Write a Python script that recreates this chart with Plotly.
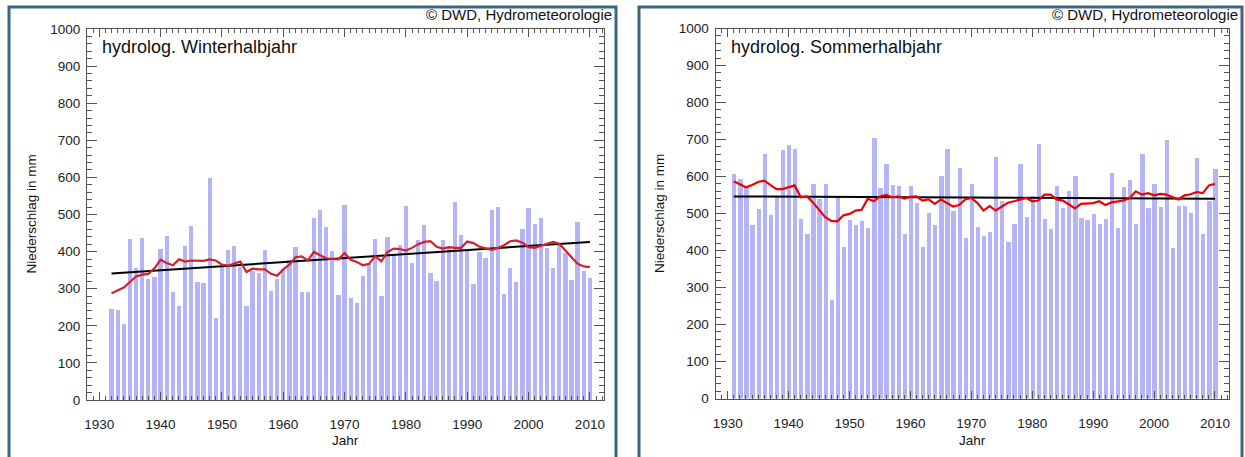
import plotly.graph_objects as go

# ---------------- data ----------------
years_winter = list(range(1932, 2011))
winter = [245, 242, 206, 435, 356, 437, 325, 332, 407, 442,
          291, 254, 415, 470, 318, 315, 598, 222, 358, 403,
          415, 358, 254, 349, 342, 403, 293, 327, 354, 378,
          412, 291, 290, 491, 513, 465, 401, 284, 526, 276,
          262, 333, 366, 434, 280, 439, 390, 417, 522, 368,
          432, 473, 341, 320, 432, 412, 535, 444, 403, 314,
          399, 383, 512, 520, 287, 356, 318, 462, 517, 475,
          490, 409, 356, 417, 395, 324, 480, 348, 330]
winter_smooth = [288, 295, 303, 318, 333, 338, 340, 355, 378, 369,
                 363, 379, 373, 376, 375, 375, 379, 376, 365, 362,
                 368, 373, 345, 354, 352, 352, 340, 335, 352, 365,
                 385, 387, 376, 399, 390, 382, 380, 379, 396, 378,
                 372, 363, 367, 388, 374, 399, 408, 407, 403, 410,
                 420, 426, 428, 413, 408, 412, 410, 410, 427, 423,
                 413, 410, 405, 410, 417, 428, 430, 424, 412, 410,
                 416, 420, 426, 421, 402, 383, 367, 360, 358]
winter_trend_years = [1932, 2010]
winter_trend = [341, 426]

years_summer = list(range(1931, 2011))
summer = [609, 595, 575, 470, 513, 661, 498, 548, 672, 687,
          677, 486, 447, 582, 540, 582, 267, 546, 411, 483,
          469, 480, 461, 705, 571, 636, 579, 575, 447, 576,
          531, 411, 503, 470, 603, 675, 508, 623, 436, 582,
          465, 441, 452, 654, 535, 425, 472, 634, 492, 549,
          688, 486, 459, 576, 517, 562, 603, 489, 483, 499,
          474, 486, 610, 461, 573, 591, 472, 661, 517, 582,
          519, 699, 409, 522, 522, 504, 652, 445, 535, 621]
summer_smooth = [587, 580, 571, 577, 585, 589, 578, 566, 566, 570,
                 576, 544, 546, 530, 510, 490, 480, 479, 495, 499,
                 508, 510, 540, 533, 546, 550, 544, 546, 540, 545,
                 546, 535, 538, 526, 538, 528, 519, 523, 538, 542,
                 528, 508, 520, 508, 519, 529, 533, 538, 542, 533,
                 535, 551, 551, 538, 535, 525, 514, 526, 526, 528,
                 533, 523, 530, 532, 535, 542, 560, 551, 555, 549,
                 553, 551, 545, 538, 549, 552, 558, 555, 576, 580]
summer_trend_years = [1931, 2010]
summer_trend = [546, 540]

panel_titles = ["hydrolog. Winterhalbjahr", "hydrolog. Sommerhalbjahr"]
copyright_text = "© DWD, Hydrometeorologie"
x_title = "Jahr"
y_title = "Niederschlag in mm"
x_ticks = [1930, 1940, 1950, 1960, 1970, 1980, 1990, 2000, 2010]
y_ticks = [0, 100, 200, 300, 400, 500, 600, 700, 800, 900, 1000]

# ---------------- layout helpers ----------------
W, H = 1245, 457
def px(x):
    return x / W
def py(y):
    return 1 - y / H

BAR_COLOR = "rgb(180,180,246)"
FONT = "Liberation Sans, Arial, Helvetica, sans-serif"
AXCOL = "#555555"

fig = go.Figure()

panels = [
    dict(x=years_winter, y=winter, s=winter_smooth, ty=winter_trend_years, tv=winter_trend,
         xa="x", ya="y", red="#d3202a", box=(87, 604, 29, 400), frame=(9, 616)),
    dict(x=years_summer, y=summer, s=summer_smooth, ty=summer_trend_years, tv=summer_trend,
         xa="x2", ya="y2", red="#f00000", box=(715.5, 1229, 28.5, 398.5), frame=(639, 1242)),
]

for i, p in enumerate(panels):
    fig.add_trace(go.Bar(x=p["x"], y=p["y"], width=0.7, marker=dict(color=BAR_COLOR, line=dict(width=0)),
                         xaxis=p["xa"], yaxis=p["ya"], showlegend=False, hoverinfo="x+y"))
    fig.add_trace(go.Scatter(x=p["ty"], y=p["tv"], mode="lines", line=dict(color="black", width=2),
                             xaxis=p["xa"], yaxis=p["ya"], showlegend=False))
    fig.add_trace(go.Scatter(x=p["x"], y=p["s"], mode="lines", line=dict(color=p["red"], width=2.2),
                             xaxis=p["xa"], yaxis=p["ya"], showlegend=False))

axis_common_x = dict(
    range=[1928.0, 2012.3], tickvals=x_ticks, ticks="inside", ticklen=8, tickcolor=AXCOL, tickwidth=1,
    showline=True, linecolor=AXCOL, linewidth=1, mirror="ticks", showgrid=False, zeroline=False,
    tickfont=dict(family=FONT, size=13.5, color="#222"), ticklabelstandoff=12, automargin=False,
    minor=dict(dtick=1, tick0=1930, ticks="inside", ticklen=4, tickcolor=AXCOL, showgrid=False),
)
axis_common_y = dict(
    range=[0, 1000], tickvals=y_ticks, ticks="inside", ticklen=10, tickcolor=AXCOL, tickwidth=1,
    showline=True, linecolor=AXCOL, linewidth=1, mirror="ticks", showgrid=False, zeroline=False,
    tickfont=dict(family=FONT, size=13.5, color="#222"), ticklabelstandoff=3, automargin=False,
    minor=dict(dtick=20, tick0=0, ticks="inside", ticklen=5, tickcolor=AXCOL, showgrid=False),
)

l0, r0, t0, b0 = panels[0]["box"]
l1, r1, t1, b1 = panels[1]["box"]
fig.update_layout(
    width=W, height=H, margin=dict(l=0, r=0, t=0, b=0, autoexpand=False),
    paper_bgcolor="white", plot_bgcolor="white", bargap=0,
    xaxis=dict(domain=[px(l0), px(r0)], anchor="y", **axis_common_x),
    yaxis=dict(domain=[py(b0), py(t0)], anchor="x", **axis_common_y),
    xaxis2=dict(domain=[px(l1), px(r1)], anchor="y2", **axis_common_x),
    yaxis2=dict(domain=[py(b1), py(t1)], anchor="x2", **axis_common_y),
)

shapes = []
annotations = []
for i, p in enumerate(panels):
    l, r, t, b = p["box"]
    fl, fr = p["frame"]
    shapes.append(dict(type="rect", xref="paper", yref="paper", x0=px(fl), x1=px(fr), y0=py(470), y1=py(7),
                       line=dict(color="#3d6680", width=3), fillcolor="rgba(0,0,0,0)", layer="above"))
    annotations.append(dict(text=panel_titles[i], xref="paper", yref="paper", x=px(l + 13), y=py(47),
                            xanchor="left", yanchor="middle", showarrow=False,
                            font=dict(family=FONT, size=18, color="#111")))
    annotations.append(dict(text=copyright_text, xref="paper", yref="paper", x=px(fr - 2), y=py(15),
                            xanchor="right", yanchor="middle", showarrow=False,
                            font=dict(family=FONT, size=15, color="#111")))
    annotations.append(dict(text=x_title, xref="paper", yref="paper", x=px((l + r) / 2), y=py(440),
                            xanchor="center", yanchor="middle", showarrow=False,
                            font=dict(family=FONT, size=13.5, color="#111")))
    annotations.append(dict(text=y_title, xref="paper", yref="paper", x=px(l - 56), y=py((t + b) / 2),
                            xanchor="center", yanchor="middle", textangle=-90, showarrow=False,
                            font=dict(family=FONT, size=13.5, color="#111")))

fig.update_layout(shapes=shapes, annotations=annotations)
fig.write_html(
    "out.html",
    config={"displayModeBar": False},
    post_script="document.body.style.margin='0';document.body.style.overflow='hidden';",
)
